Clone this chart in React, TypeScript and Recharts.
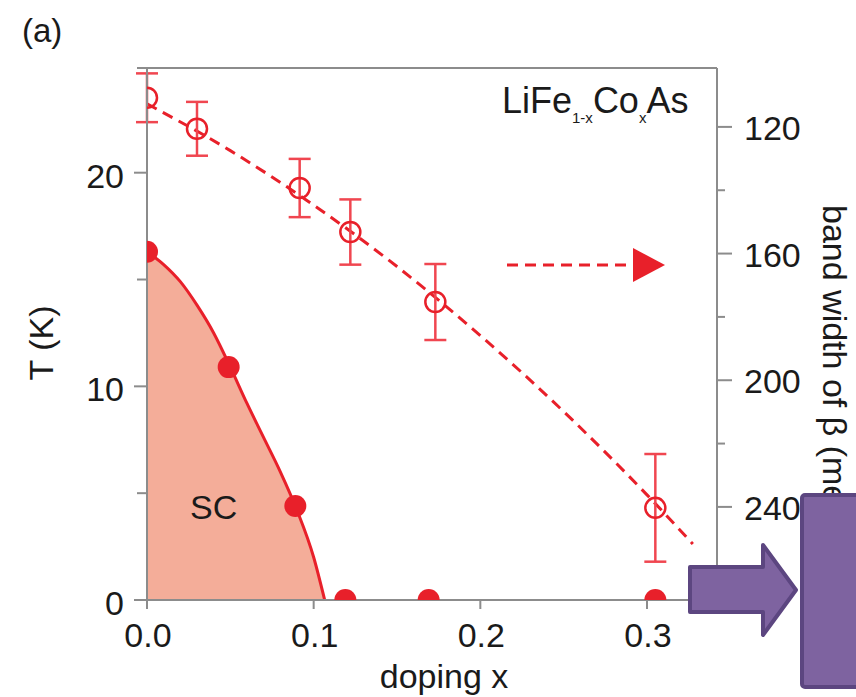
import React from "react";
import {
  ComposedChart,
  Area,
  Line,
  Scatter,
  ErrorBar,
  XAxis,
  YAxis,
  ReferenceLine,
} from "recharts";

// band width of beta (right axis, meV), open circles
const bwDoping = [0, 0.03, 0.0916, 0.122, 0.173, 0.305];
const bandWidth = [110.8, 120.6, 139.3, 153.2, 175.3, 240.3];
const bandWidthErr = [7.7, 8.5, 9.2, 10.3, 12.0, 17.0];

// dashed guide through the band width points
const fitDoping = [0, 0.05, 0.1, 0.15, 0.2, 0.25, 0.3, 0.3275];
const fitBw = [112.7, 127.5, 144.7, 164.1, 185.9, 209.9, 236.2, 251.7];

// Tc (left axis, K), filled circles
const tcDoping = [0, 0.049, 0.089, 0.119, 0.169, 0.305];
const tcValues = [16.3, 10.9, 4.4, 0, 0, 0];

// SC dome boundary
const domeDoping = [0, 0.01, 0.02, 0.03, 0.04, 0.05, 0.06, 0.07, 0.08, 0.09, 0.1, 0.1066];
const domeTc = [16.3, 15.7, 14.9, 13.8, 12.5, 10.9, 9.2, 7.6, 6.0, 4.2, 2.0, 0];

const xTicks = [0, 0.1, 0.2, 0.3];
const tTicks = [0, 5, 10, 15, 20];
const bwTicks = [120, 140, 160, 180, 200, 220, 240];

const RED = "#e8202a";
const AXIS = "#8c8c8c";
const FONT = "'Liberation Sans', Arial, sans-serif";

const bwData = bwDoping.map((x, i) => ({ x, bw: bandWidth[i], err: bandWidthErr[i] }));
const fitData = fitDoping.map((x, i) => ({ x, bw: fitBw[i] }));
const tcData = tcDoping.map((x, i) => ({ x, t: tcValues[i] }));
const domeData = domeDoping.map((x, i) => ({ x, t: domeTc[i] }));

const LeftTick = ({ x, y, payload }: any) => {
  const major = payload.value % 10 === 0;
  return (
    <g>
      <line x1={x - (major ? 13 : 10)} x2={x} y1={y} y2={y} stroke={AXIS} strokeWidth={2} />
      {major && (
        <text x={x - 23} y={y + 15} textAnchor="end" fontSize={34} fontFamily={FONT} fill="#1a1a1a">
          {payload.value}
        </text>
      )}
    </g>
  );
};

const RightTick = ({ x, y, payload }: any) => {
  const major = payload.value % 40 === 0;
  return (
    <g>
      <line x1={x} x2={x + (major ? 15 : 8)} y1={y} y2={y} stroke={AXIS} strokeWidth={2} />
      {major && (
        <text x={x + 27} y={y + 13} textAnchor="start" fontSize={34} fontFamily={FONT} fill="#1a1a1a">
          {payload.value}
        </text>
      )}
    </g>
  );
};

const BottomTick = ({ x, y, payload }: any) => (
  <g>
    <line x1={x} x2={x} y1={y} y2={y + 9} stroke={AXIS} strokeWidth={2} />
    <text x={x + 1} y={y + 47} textAnchor="middle" fontSize={34} fontFamily={FONT} fill="#1a1a1a">
      {payload.value.toFixed(1)}
    </text>
  </g>
);

const OpenCircle = ({ cx, cy }: any) => (
  <circle cx={cx} cy={cy} r={10} fill="none" stroke={RED} strokeWidth={2.5} />
);

const FilledCircle = ({ cx, cy }: any) => <circle cx={cx} cy={cy} r={11} fill={RED} />;

export default function App() {
  return (
    <div style={{ position: "absolute", left: 0, top: 0, width: 856, height: 697, background: "#fff", overflow: "hidden" }}>
      <ComposedChart width={856} height={697} margin={{ top: 68, right: 39, bottom: 37, left: 47 }}>
        <XAxis
          type="number"
          dataKey="x"
          domain={[0, 0.342]}
          ticks={xTicks}
          allowDataOverflow
          height={60}
          tickSize={0}
          tickMargin={0}
          tickLine={false}
          tick={<BottomTick />}
          axisLine={{ stroke: AXIS, strokeWidth: 2 }}
        />
        <YAxis
          yAxisId="t"
          orientation="left"
          type="number"
          domain={[0, 24.9]}
          ticks={tTicks}
          allowDataOverflow
          width={100}
          tickSize={0}
          tickMargin={0}
          tickLine={false}
          tick={<LeftTick />}
          axisLine={{ stroke: AXIS, strokeWidth: 2 }}
        />
        <YAxis
          yAxisId="bw"
          orientation="right"
          type="number"
          domain={[101.4, 269.4]}
          reversed
          ticks={bwTicks}
          allowDataOverflow
          width={100}
          tickSize={0}
          tickMargin={0}
          tickLine={false}
          tick={<RightTick />}
          axisLine={{ stroke: AXIS, strokeWidth: 2 }}
        />
        <ReferenceLine yAxisId="t" y={24.9} stroke={AXIS} strokeWidth={2} />
        <Area
          yAxisId="t"
          data={domeData}
          dataKey="t"
          type="monotone"
          baseValue={0}
          stroke={RED}
          strokeWidth={3}
          fill="#f4ad99"
          fillOpacity={1}
          isAnimationActive={false}
        />
        <Line
          yAxisId="bw"
          data={fitData}
          dataKey="bw"
          type="monotone"
          stroke={RED}
          strokeWidth={3}
          strokeDasharray="11 7"
          dot={false}
          isAnimationActive={false}
        />
        <Scatter yAxisId="bw" data={bwData} dataKey="bw" shape={<OpenCircle />} isAnimationActive={false}>
          <ErrorBar dataKey="err" direction="y" width={11} stroke="#f04650" strokeWidth={2.5} />
        </Scatter>
        <Scatter yAxisId="t" data={tcData} dataKey="t" shape={<FilledCircle />} isAnimationActive={false} />
      </ComposedChart>

      <svg width={856} height={697} style={{ position: "absolute", left: 0, top: 0, pointerEvents: "none" }}>
        <line x1={137} x2={147} y1={68} y2={68} stroke={AXIS} strokeWidth={2} />
        <text x={22} y={42} fontSize={33} fontFamily={FONT} fill="#1a1a1a">(a)</text>
        <text x={502} y={113} fontSize={36} fontFamily={FONT} fill="#1a1a1a">
          LiFe
          <tspan fontSize={15} dy={10}>1-x</tspan>
          <tspan dy={-10}>Co</tspan>
          <tspan fontSize={15} dy={10}>x</tspan>
          <tspan dy={-10}>As</tspan>
        </text>
        <text x={190} y={519} fontSize={34} fontFamily={FONT} fill="#1a1a1a">SC</text>
        <text transform="translate(53,343) rotate(-90)" textAnchor="middle" fontSize={34} fontFamily={FONT} fill="#1a1a1a">
          T (K)
        </text>
        <text x={444} y={688} textAnchor="middle" fontSize={34} fontFamily={FONT} fill="#1a1a1a">
          doping x
        </text>
        <text transform="translate(823,205) rotate(90)" fontSize={34} fontFamily={FONT} fill="#1a1a1a">
          band width of β (meV)
        </text>
        <line x1={507} x2={636} y1={265} y2={265} stroke={RED} strokeWidth={3} strokeDasharray="11 7" />
        <polygon points="633,248 665,265 633,282" fill={RED} />
        <polygon
          points="690,567 763,567 763,545 796,590 763,635 763,612 690,612"
          fill="#7e63a0"
          stroke="#5c4680"
          strokeWidth={4}
          strokeLinejoin="round"
        />
        <rect x={802} y={495} width={70} height={192} rx={3} fill="#7e63a0" stroke="#5c4680" strokeWidth={4} />
      </svg>
    </div>
  );
}
